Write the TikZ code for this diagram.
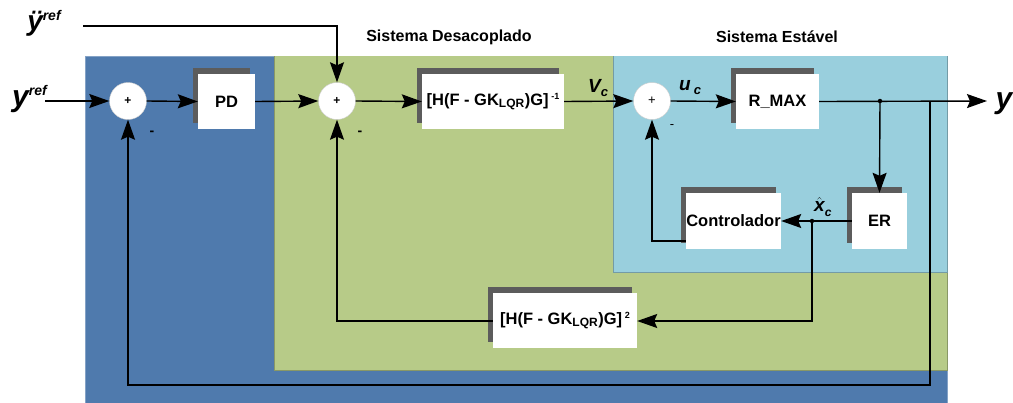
\documentclass[tikz,border=0pt]{standalone}
\usepackage{fontspec}
\setmainfont{Liberation Sans}
\usetikzlibrary{arrows.meta,shadows}
\definecolor{bluebg}{RGB}{79,122,173}
\definecolor{greenbg}{RGB}{183,203,136}
\definecolor{cyanbg}{RGB}{153,207,221}
\definecolor{shadowgray}{RGB}{92,92,92}
\begin{document}
\begin{tikzpicture}[x=1pt,y=-1pt,
  blk/.style={fill=white, inner sep=0pt, font=\bfseries\fontsize{16.5}{18}\selectfont,
    drop shadow={shadow xshift=-5pt,shadow yshift=6pt,fill=shadowgray,opacity=1}},
  sumnode/.style={circle, fill=white, draw=gray!40, line width=0.4pt, minimum size=37pt, inner sep=0pt,
    font=\bfseries\fontsize{12}{12}\selectfont},
  conn/.style={line width=1.4pt, line join=miter},
  tip/.style={-{Stealth[length=20pt,width=14pt,inset=3pt]}},
  arr/.style={conn, tip},
  lbl/.style={font=\bfseries\fontsize{16}{18}\selectfont, inner sep=0pt},
  var/.style={font=\bfseries\itshape, inner sep=0pt},
  minus/.style={font=\bfseries\fontsize{14}{14}\selectfont, inner sep=0pt},
  jdot/.style={circle, fill=black, minimum size=4.5pt, inner sep=0pt}]
\useasboundingbox (0,0) rectangle (1013,402);
% regions
\fill[bluebg] (85,56) rectangle (947,403);
\draw[bluebg!70!white, line width=0.8pt] (85,403) -- (85,56) -- (947,56) -- (947,403);
\fill[greenbg] (274,56) rectangle (947,370);
\draw[greenbg!75!black, line width=0.8pt] (274,56) -- (274,370) -- (947,370) -- (947,56);
\fill[cyanbg] (613,56) rectangle (947,272);
\draw[cyanbg!75!black, line width=0.8pt] (613,56) -- (613,272) -- (947,272) -- (947,56);
% titles
\node[lbl] (t1) at (449,37) {Sistema Desacoplado};
\node[lbl] (t2) at (777,37) {Sistema Estável};
% summing junctions
\node[sumnode] (s1) at (128,101) {+};
\node[sumnode] (s2) at (337,101) {+};
\node[sumnode, font=\fontsize{13}{13}\selectfont] (s3) at (652,101) {+};
% blocks
\node[blk, minimum width=57pt, minimum height=55pt] (pd) at (226.5,101.5) {PD};
\node[blk, minimum width=142pt, minimum height=55pt] (h1) at (493,101.5)
  {[H(F - GK\textsubscript{\fontsize{12}{12}\selectfont LQR})G]\,\raisebox{6pt}{\fontsize{9}{9}\selectfont -1}};
\node[blk, minimum width=83pt, minimum height=55pt] (rmax) at (777.5,101.5) {R\_MAX};
\node[blk, minimum width=55pt, minimum height=56pt] (er) at (879.5,221) {ER};
\node[blk, minimum width=95pt, minimum height=56pt] (ctrl) at (733.5,221) {Controlador};
\node[blk, minimum width=144pt, minimum height=55pt] (h2) at (565,320.5)
  {[H(F - GK\textsubscript{\fontsize{12}{12}\selectfont LQR})G]\,\raisebox{6pt}{\fontsize{9}{9}\selectfont 2}};
% input labels
\node[var, anchor=west] (yref) at (12,99) {\fontsize{30}{30}\selectfont y\raisebox{11pt}{\fontsize{14}{14}\selectfont ref}};
\node[var, anchor=west] (yddref) at (27,23) {\fontsize{28}{28}\selectfont ÿ\raisebox{10pt}{\fontsize{14}{14}\selectfont ref}};
\node[var] (yout) at (1004,104) {\fontsize{30}{30}\selectfont y};
\coordinate (yin) at (45,101);
\coordinate (yddin) at (83,26);
% variable labels
\node[var, anchor=west] (vc) at (588,88) {\fontsize{19}{19}\selectfont V\raisebox{-4pt}{\fontsize{13}{13}\selectfont c}};
\node[var, anchor=west] (uc) at (679,88) {\fontsize{19}{19}\selectfont u\,\raisebox{-4pt}{\fontsize{13}{13}\selectfont c}};
\node[var, anchor=west] (xc) at (814,207) {\fontsize{19}{19}\selectfont $\hat{\mbox{x}}$\raisebox{-5pt}{\fontsize{12}{12}\selectfont c}};
% minus signs
\node[minus] (m1) at (152,133) {-};
\node[minus] (m2) at (360,133) {-};
\node[minus, font=\fontsize{13}{13}\selectfont] (m3) at (672,127) {-};
% coordinates
\coordinate (yend) at (987,101);
\coordinate (j1) at (880,101);
\coordinate (br) at (930,101);
\coordinate (j2) at (812,221);
\coordinate (c1) at (930,385);
\coordinate (c2) at (128,385);
% forward path
\draw[arr] (yin) -- (s1.west);
\draw[arr] (s1.east) -- (pd.west);
\draw[arr] (pd.east) -- (s2.west);
\draw[arr] (yddin) -- (337,26) -- (s2.north);
\draw[arr] (s2.east) -- (h1.west);
\draw[arr] (h1.east) -- (s3.west);
\draw[arr] (s3.east) -- (rmax.west);
\draw[arr] (rmax.east) -- (yend);
% inner loop
\draw[arr] (j1) -- (er.north);
\node[jdot] (d1) at (j1) {};
\draw[arr] (er.west) -- (ctrl.east);
\node[jdot] (d2) at (j2) {};
\draw[arr] (ctrl.west |- 0,241) -- (652,241) -- (s3.south);
% decoupling feedback
\draw[arr] (j2) -- (812,321) -- (h2.east |- 0,321);
\draw[arr] (h2.west |- 0,321) -- (337,321) -- (s2.south);
% outer feedback
\draw[arr, line width=1.6pt] (br) -- (c1) -- (c2) -- (s1.south);
\end{tikzpicture}
\end{document}
